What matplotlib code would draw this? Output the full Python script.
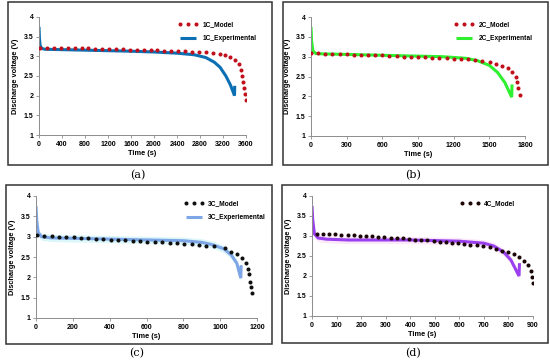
import matplotlib
matplotlib.use("Agg")
import matplotlib.pyplot as plt
from matplotlib.patches import Rectangle
import numpy as np

# ---------------- data ----------------
# 1C
t1_exp = [0, 8, 20, 50, 100, 400, 1000, 1600, 2000, 2400, 2700, 2900, 3050, 3150, 3250, 3330, 3400, 3404]
v1_exp = [3.75, 3.45, 3.27, 3.20, 3.18, 3.17, 3.15, 3.13, 3.11, 3.08, 3.04, 2.97, 2.85, 2.72, 2.50, 2.27, 2.00, 2.25]
t1_mod = [20, 140, 260, 380, 500, 620, 740, 860, 980, 1100, 1220, 1340, 1460, 1580, 1700, 1820, 1940,
          2060, 2180, 2300, 2420, 2540, 2660, 2780, 2900, 3020, 3140, 3240, 3330, 3410, 3470, 3510, 3535,
          3555, 3570, 3582, 3592]
v1_mod = [3.22, 3.21, 3.21, 3.21, 3.21, 3.20, 3.20, 3.20, 3.19, 3.19, 3.19, 3.18, 3.18, 3.17, 3.17, 3.16, 3.15,
          3.15, 3.14, 3.14, 3.13, 3.13, 3.12, 3.11, 3.10, 3.08, 3.06, 3.03, 2.99, 2.91, 2.80, 2.65, 2.50,
          2.36, 2.20, 2.04, 1.88]
# 2C
t2_exp = [0, 5, 15, 40, 100, 400, 800, 1100, 1300, 1400, 1500, 1570, 1630, 1688, 1691]
v2_exp = [3.75, 3.40, 3.15, 3.08, 3.07, 3.05, 3.02, 3.00, 2.96, 2.90, 2.78, 2.60, 2.35, 1.98, 2.30]
t2_mod = [0, 60, 120, 180, 240, 300, 360, 420, 480, 540, 600, 660, 720, 780, 840, 900, 960, 1020, 1080,
          1140, 1200, 1260, 1320, 1380, 1440, 1505, 1556, 1606, 1654, 1693, 1722, 1735, 1744, 1756]
v2_mod = [3.10, 3.08, 3.07, 3.07, 3.06, 3.06, 3.05, 3.05, 3.04, 3.03, 3.03, 3.02, 3.01, 3.00, 2.99, 2.99,
          2.98, 2.97, 2.97, 2.96, 2.95, 2.94, 2.93, 2.91, 2.89, 2.86, 2.82, 2.77, 2.71, 2.62, 2.50, 2.35,
          2.20, 2.03]
# 3C
t3_exp = [0, 4, 12, 30, 80, 300, 600, 800, 900, 960, 1020, 1060, 1090, 1112, 1114]
v3_exp = [3.75, 3.40, 3.10, 3.00, 2.97, 2.95, 2.92, 2.90, 2.86, 2.80, 2.70, 2.55, 2.35, 1.98, 2.30]
t3_mod = [5, 45, 85, 125, 165, 205, 245, 285, 325, 365, 405, 445, 485, 525, 565, 605, 645, 685, 725,
          765, 805, 845, 885, 925, 965, 1026, 1057, 1089, 1116, 1138, 1152, 1158, 1164, 1168, 1172]
v3_mod = [3.05, 3.02, 3.01, 3.00, 2.99, 2.98, 2.97, 2.96, 2.95, 2.94, 2.93, 2.92, 2.91, 2.90, 2.89, 2.88,
          2.87, 2.86, 2.85, 2.84, 2.83, 2.81, 2.80, 2.78, 2.76, 2.71, 2.63, 2.57, 2.47, 2.35, 2.20, 2.07,
          1.89, 1.75, 1.61]
# 4C
t4_exp = [0, 3, 10, 25, 60, 150, 400, 600, 700, 740, 780, 810, 843, 845]
v4_exp = [3.75, 3.40, 3.05, 2.95, 2.92, 2.90, 2.90, 2.87, 2.82, 2.75, 2.60, 2.40, 2.00, 2.32]
t4_mod = [20, 45, 70, 95, 120, 145, 170, 195, 220, 245, 270, 295, 320, 345, 370, 395, 420, 445, 470,
          495, 520, 545, 570, 595, 620, 645, 670, 695, 725, 749, 775, 800, 822, 844, 865, 881, 891, 895, 899]
v4_mod = [3.05, 3.05, 3.04, 3.04, 3.03, 3.02, 3.02, 3.01, 3.00, 2.99, 2.98, 2.97, 2.96, 2.95, 2.94, 2.92,
          2.91, 2.90, 2.89, 2.88, 2.86, 2.85, 2.83, 2.82, 2.80, 2.78, 2.77, 2.75, 2.72, 2.67, 2.63, 2.61,
          2.54, 2.47, 2.38, 2.28, 2.13, 1.98, 1.82]

yticks = [1, 1.5, 2, 2.5, 3, 3.5, 4]
ytick_labels = ["1", "1.5", "2", "2.5", "3", "3.5", "4"]
xticks_a = [0, 400, 800, 1200, 1600, 2000, 2400, 2800, 3200, 3600]
xticks_b = [0, 300, 600, 900, 1200, 1500, 1800]
xticks_c = [0, 200, 400, 600, 800, 1000, 1200]
xticks_d = [0, 100, 200, 300, 400, 500, 600, 700, 800, 900]

# ---------------- drawing ----------------
plt.rcParams['font.family'] = ['Liberation Sans', 'DejaVu Sans']
W, H = 550, 363
fig = plt.figure(figsize=(5.5, 3.63), dpi=100)
fig.patch.set_facecolor('white')


def pax(x0, y0, x1, y1):
    return fig.add_axes([x0 / W, 1 - y1 / H, (x1 - x0) / W, (y1 - y0) / H])


def frame(x0, y0, x1, y1):
    fig.patches.append(Rectangle((x0 / W, 1 - y1 / H), (x1 - x0) / W, (y1 - y0) / H,
                                 transform=fig.transFigure, fill=False,
                                 edgecolor='#333333', linewidth=1.1))


panels = [
    dict(box=(8, 2, 272, 165), ax=(39, 17, 246, 135), xt=xticks_a, xmax=3600,
         te=t1_exp, ve=v1_exp, tm=t1_mod, vm=v1_mod, ec='#0a6fb3', mc='#c0101c',
         lab=('1C_Model', '1C_Experimental'), band=None, letter='(a)', ly=175),
    dict(box=(283, 2, 548, 165), ax=(311, 17, 525, 136), xt=xticks_b, xmax=1800,
         te=t2_exp, ve=v2_exp, tm=t2_mod, vm=v2_mod, ec='#2ef02e', mc='#c0101c',
         lab=('2C_Model', '2C_Experimental'), band=None, letter='(b)', ly=175),
    dict(box=(6, 185, 272, 344), ax=(36, 196, 257, 318), xt=xticks_c, xmax=1200,
         te=t3_exp, ve=v3_exp, tm=t3_mod, vm=v3_mod, ec='#7ea6e6', mc='#101010',
         lab=('3C_Model', '3C_Experiemental'), band='#dcf7fa', letter='(c)', ly=353),
    dict(box=(282, 185, 548, 343), ax=(312, 196, 533, 316), xt=xticks_d, xmax=900,
         te=t4_exp, ve=v4_exp, tm=t4_mod, vm=v4_mod, ec='#9a40ee', mc='#1c0606',
         lab=('4C_Model', None), band='#fbe8fa', letter='(d)', ly=353),
]

for p in panels:
    frame(*p['box'])
    ax = pax(*p['ax'])
    te = np.array(p['te'], dtype=float)
    ve = np.array(p['ve'], dtype=float)
    if p['band'] is not None:
        ax.fill_between(te, ve - 0.09, ve + 0.09, color=p['band'], linewidth=0, zorder=1)
    hm, = ax.plot(p['tm'], p['vm'], linestyle='none', marker='o', markersize=1.9,
                  color=p['mc'], zorder=3)
    he, = ax.plot(te, ve, color=p['ec'], linewidth=2.2, solid_joinstyle='miter',
                  solid_capstyle='butt', zorder=2)
    handles = [hm]
    labels = [p['lab'][0]]
    if p['lab'][1]:
        handles.append(he)
        labels.append(p['lab'][1])
    leg = ax.legend(handles, labels, loc='upper left', bbox_to_anchor=(0.65, 1.0),
                    frameon=False, fontsize=4.8, numpoints=3, handlelength=3.0,
                    handletextpad=0.7, labelspacing=1.1, borderaxespad=0.2)
    for t in leg.get_texts():
        t.set_fontweight('bold')
    ax.set_xlim(0, p['xmax'] * 1.0)
    ax.set_ylim(1, 4)
    ax.set_xticks(p['xt'])
    ax.set_xticklabels([str(v) for v in p['xt']])
    ax.set_yticks(yticks)
    ax.set_yticklabels(ytick_labels)
    for s in ['top', 'right']:
        ax.spines[s].set_visible(False)
    for s in ['left', 'bottom']:
        ax.spines[s].set_color('#8c8c8c')
        ax.spines[s].set_linewidth(0.7)
    ax.tick_params(axis='both', labelsize=5, length=2, width=0.6, color='#8c8c8c', pad=2)
    for lbl in ax.get_xticklabels() + ax.get_yticklabels():
        lbl.set_fontweight('bold')
    ax.set_xlabel('Time (s)', fontsize=5.3, fontweight='bold', labelpad=2)
    ax.set_ylabel('Discharge voltage (V)', fontsize=5.3, fontweight='bold', labelpad=3)
    bx = p['box']
    fig.text(((bx[0] + bx[2]) / 2 - 2) / W, 1 - p['ly'] / H, p['letter'],
             ha='center', va='center', fontsize=8, family='DejaVu Serif')

fig.savefig('out.png', dpi=100)
